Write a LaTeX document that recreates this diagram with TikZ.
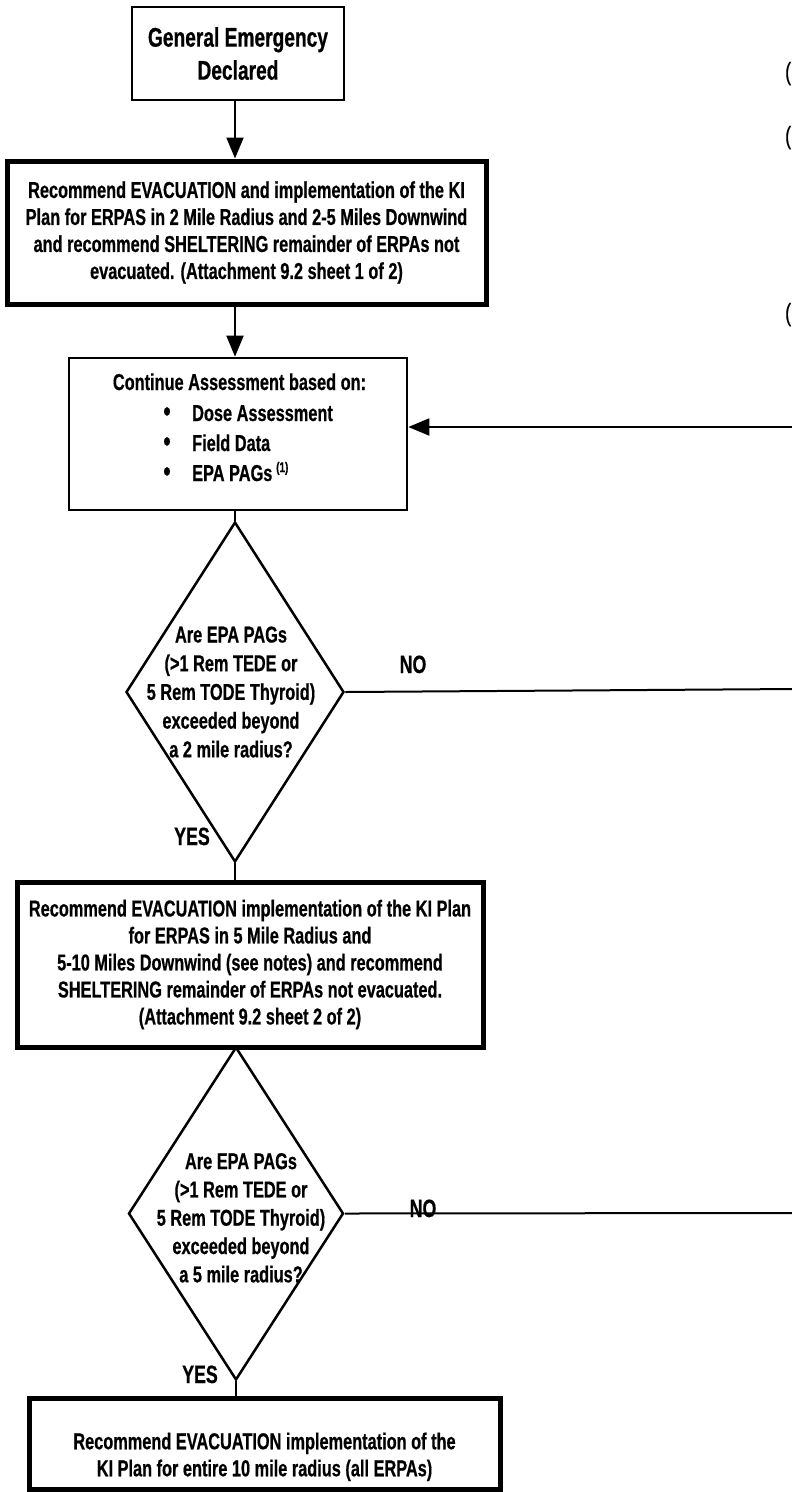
\documentclass[tikz,border=0pt]{standalone}
\usepackage{fontspec}
\setmainfont{Liberation Sans}[FakeStretch=0.71,FakeBold=0.6]
\usetikzlibrary{shapes.geometric,arrows.meta}
\begin{document}
\begin{tikzpicture}[x=1pt,y=-1pt,
  thinbox/.style={draw, line width=2.7pt, inner sep=0pt, align=center},
  thickbox/.style={draw, line width=5pt, inner sep=0pt, align=center},
  dia/.style={draw, diamond, line width=2.5pt, inner sep=0pt},
  conn/.style={line width=2pt},
  arr/.style={conn, -{Triangle[length=21pt,width=17pt]}},
  ftA/.style={font=\bfseries\fontsize{23}{27}\selectfont},
  ftD/.style={font=\bfseries\fontsize{23}{28.7}\selectfont, align=center, inner sep=0pt},
  lbl/.style={font=\bfseries\fontsize{25}{25}\selectfont, inner sep=0pt, anchor=base},
  txt/.style={font=\bfseries\fontsize{23}{27}\selectfont, inner sep=0pt}
]
\useasboundingbox (0,0) rectangle (792,1492);
\clip (0,0) rectangle (792,1492);

\coordinate (spine) at (235,0);

% boxes
\node[thinbox, minimum width=212pt, minimum height=93pt,
      font=\bfseries\fontsize{27}{33}\selectfont] (b1) at (238,53.5)
  {General Emergency\\Declared};

\node[thickbox, minimum width=479pt, minimum height=143pt, ftA] (b2) at (246.5,232.5)
  {Recommend EVACUATION and implementation of the KI\\
   Plan for ERPAS in 2 Mile Radius and 2-5 Miles Downwind\\
   and recommend SHELTERING remainder of ERPAs not\\
   evacuated. (Attachment 9.2 sheet 1 of 2)};

\node[thinbox, minimum width=338pt, minimum height=152pt] (b3) at (238,434) {};
\node[txt, anchor=base] (h3) at (239.5,390) {Continue Assessment based on:};
\node[inner sep=0pt, anchor=base, font=\bfseries\fontsize{29}{29}\selectfont] (bu1) at (167,421) {\textbullet};
\node[inner sep=0pt, anchor=base, font=\bfseries\fontsize{29}{29}\selectfont] (bu2) at (167,451) {\textbullet};
\node[inner sep=0pt, anchor=base, font=\bfseries\fontsize{29}{29}\selectfont] (bu3) at (167,481) {\textbullet};
\node[txt, anchor=base west] (i1) at (192,421) {Dose Assessment};
\node[txt, anchor=base west] (i2) at (192,451) {Field Data};
\node[txt, anchor=base west] (i3) at (192,481) {EPA PAGs\,{\fontsize{14}{14}\selectfont\raisebox{9pt}{(1)}}};

% diamond 1
\node[dia, minimum width=218pt, minimum height=340pt] (d1) at (235,692) {};
\node[ftD] (d1t) at (231,692)
  {Are EPA PAGs\\(>1 Rem TEDE or\\5 Rem TODE Thyroid)\\exceeded beyond\\a 2 mile radius?};
\node[lbl] (no1) at (413,673) {NO};
\node[lbl] (yes1) at (192,845) {YES};

\node[thickbox, minimum width=466pt, minimum height=165pt, ftA] (b4) at (250,964.5)
  {Recommend EVACUATION implementation of the KI Plan\\
   for ERPAS in 5 Mile Radius and\\
   5-10 Miles Downwind (see notes) and recommend\\
   SHELTERING remainder of ERPAs not evacuated.\\
   (Attachment 9.2 sheet 2 of 2)};

% diamond 2
\node[dia, minimum width=215pt, minimum height=333pt] (d2) at (236,1213.5) {};
\node[ftD, font=\bfseries\fontsize{23}{28.3}\selectfont] (d2t) at (241,1217.8)
  {Are EPA PAGs\\(>1 Rem TEDE or\\5 Rem TODE Thyroid)\\exceeded beyond\\a 5 mile radius?};
\node[lbl] (no2) at (423,1217) {NO};
\node[lbl] (yes2) at (200,1383) {YES};

\node[thickbox, minimum width=471pt, minimum height=91pt] (b5) at (264.5,1443.5) {};
\node[txt, align=center] (t5) at (264.5,1456.8)
  {Recommend EVACUATION implementation of the\\KI Plan for entire 10 mile radius (all ERPAs)};

% cropped marks at right edge
\node[inner sep=0pt, anchor=base west, font=\fontsize{25}{25}\selectfont] (p1) at (785,80) {(};
\node[inner sep=0pt, anchor=base west, font=\fontsize{25}{25}\selectfont] (p2) at (785,144) {(};
\node[inner sep=0pt, anchor=base west, font=\fontsize{25}{25}\selectfont] (p3) at (785,321) {(};

% connectors
\coordinate (fb) at (796,427);
\coordinate (e1) at (796,689);
\coordinate (e2) at (796,1213);

\draw[arr] (b1.south -| spine) -- (b2.north -| spine);
\draw[arr] (b2.south -| spine) -- (b3.north -| spine);
\draw[conn] (b3.south -| spine) -- (d1.north);
\draw[conn] (d1.south) -- (b4.north -| d1.south);
\draw[conn] (d2.south) -- (b5.north -| d2.south);
\draw[conn] (d1.east) -- (e1);
\draw[conn] (d2.east) -- (e2);
\draw[arr] (fb) -- (fb -| b3.east);
\end{tikzpicture}
\end{document}
